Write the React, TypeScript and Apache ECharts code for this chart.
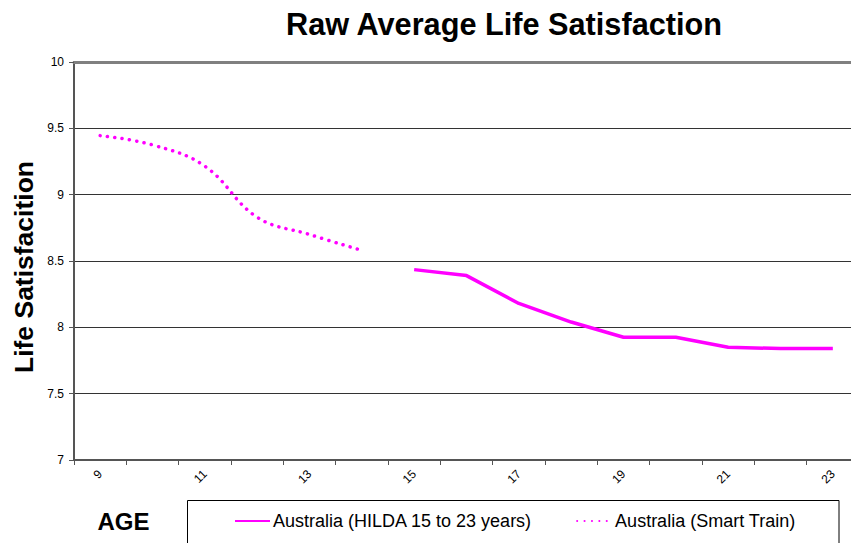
import React, { useEffect, useRef } from "react";
import * as echarts from "echarts";

const ages = ["9", "10", "11", "12", "13", "14", "15", "16", "17", "18", "19", "20", "21", "22", "23"];
const smartTrain = [9.445, 9.375, 9.215, 8.83, 8.7, 8.58, null, null, null, null, null, null, null, null, null];
const hilda = [null, null, null, null, null, null, 8.435, 8.39, 8.18, 8.04, 7.925, 7.925, 7.85, 7.84, 7.84];
const yTicks = { min: 7, max: 10, interval: 0.5 };

const FONT = "'Liberation Sans', Arial, sans-serif";
const MAGENTA = "#FF00FF";

export default function App() {
  const ref = useRef<HTMLDivElement>(null);
  useEffect(() => {
    if (!ref.current) return;
    const chart = echarts.init(ref.current, null, { renderer: "svg" });
    chart.setOption({
      animation: false,
      backgroundColor: "#ffffff",
      textStyle: { fontFamily: FONT },
      title: {
        text: "Raw Average Life Satisfaction",
        left: 286,
        top: 9,
        padding: 0,
        textStyle: { fontFamily: FONT, fontSize: 30.7, fontWeight: "bold", color: "#000" },
      },
      grid: { left: 74, top: 62, width: 785, height: 398, containLabel: false, outerBoundsMode: "none" },
      xAxis: [
        {
          type: "category",
          data: ages,
          boundaryGap: true,
          axisLine: { show: true, lineStyle: { color: "#555", width: 2 } },
          axisTick: { show: true, interval: 0, length: 5, lineStyle: { color: "#555", width: 1 } },
          axisLabel: { interval: 1, rotate: 45, fontSize: 12, color: "#000", margin: 12, fontFamily: FONT },
          splitLine: { show: false },
        },
        {
          type: "category",
          data: ages,
          position: "top",
          axisLine: { show: true, lineStyle: { color: "#808080", width: 3 } },
          axisTick: { show: false },
          axisLabel: { show: false },
        },
      ],
      yAxis: {
        type: "value",
        min: yTicks.min,
        max: yTicks.max,
        interval: yTicks.interval,
        axisLine: { show: true, lineStyle: { color: "#555", width: 2 } },
        axisTick: { show: true, length: 5, lineStyle: { color: "#555", width: 1 } },
        axisLabel: { fontSize: 12, color: "#000", margin: 10, fontFamily: FONT },
        splitLine: { show: true, lineStyle: { color: "#333", width: 1 } },
      },
      legend: {
        left: 234,
        top: 512,
        padding: 0,
        itemWidth: 35,
        itemHeight: 14,
        itemGap: 44,
        selectedMode: false,
        itemStyle: { opacity: 0 },
        textStyle: { fontSize: 18, color: "#000", fontFamily: FONT, padding: [0, 0, 0, -2] },
        data: ["Australia (HILDA 15 to 23 years)", "Australia (Smart Train)"],
      },
      series: [
        {
          name: "Australia (HILDA 15 to 23 years)",
          type: "line",
          data: hilda,
          symbol: "none",
          connectNulls: false,
          lineStyle: { color: MAGENTA, width: 3.5 },
          itemStyle: { color: MAGENTA },
        },
        {
          name: "Australia (Smart Train)",
          type: "line",
          data: smartTrain,
          symbol: "none",
          smooth: 0.4,
          connectNulls: false,
          lineStyle: { color: MAGENTA, width: 3.5, type: [0.1, 7.3], cap: "round" },
          itemStyle: { color: MAGENTA },
        },
      ],
      graphic: [
        {
          type: "text",
          x: 24,
          y: 267,
          rotation: Math.PI / 2,
          style: {
            text: "Life Satisfacition",
            fontFamily: FONT,
            fontSize: 26.5,
            fontWeight: "bold",
            fill: "#000",
            align: "center",
            verticalAlign: "middle",
          },
        },
        {
          type: "text",
          x: 123.5,
          y: 521,
          style: {
            text: "AGE",
            fontFamily: FONT,
            fontSize: 24,
            fontWeight: "bold",
            fill: "#000",
            align: "center",
            verticalAlign: "middle",
          },
        },
        {
          type: "rect",
          shape: { x: 187.5, y: 500.5, width: 651.5, height: 60 },
          style: { fill: "none", stroke: "#000", lineWidth: 1 },
          silent: true,
        },
      ],
    });
    return () => chart.dispose();
  }, []);
  return (
    <div
      ref={ref}
      style={{ position: "fixed", left: 0, top: 0, width: 851, height: 543, background: "#fff" }}
    />
  );
}
